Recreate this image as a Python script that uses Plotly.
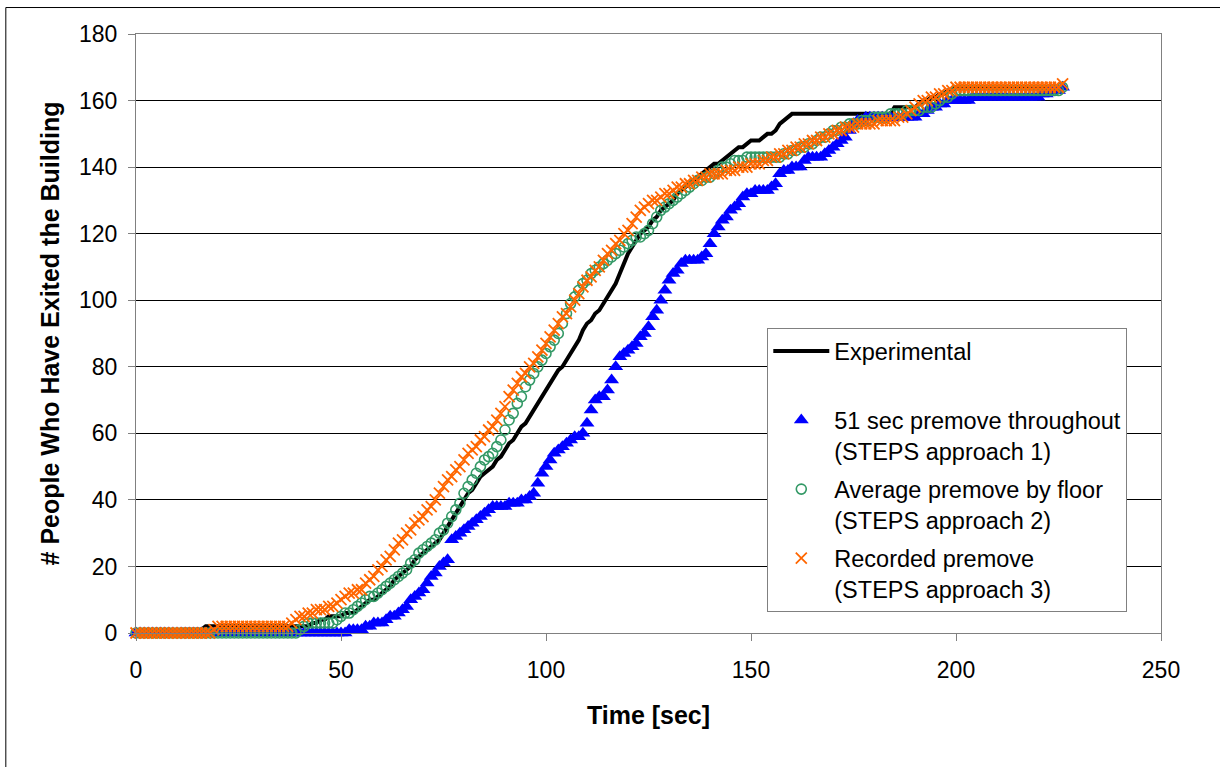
import plotly.graph_objects as go

# Sample times (s) and cumulative number of people out of the building
time_s = [
    0, 1, 2, 3, 4, 5, 6, 7, 8, 9,
    10, 11, 12, 13, 14, 15, 16, 17, 18, 19,
    20, 21, 22, 23, 24, 25, 26, 27, 28, 29,
    30, 31, 32, 33, 34, 35, 36, 37, 38, 39,
    40, 41, 42, 43, 44, 45, 46, 47, 48, 49,
    50, 51, 52, 53, 54, 55, 56, 57, 58, 59,
    60, 61, 62, 63, 64, 65, 66, 67, 68, 69,
    70, 71, 72, 73, 74, 75, 76, 77, 78, 79,
    80, 81, 82, 83, 84, 85, 86, 87, 88, 89,
    90, 91, 92, 93, 94, 95, 96, 97, 98, 99,
    100, 101, 102, 103, 104, 105, 106, 107, 108, 109,
    110, 111, 112, 113, 114, 115, 116, 117, 118, 119,
    120, 121, 122, 123, 124, 125, 126, 127, 128, 129,
    130, 131, 132, 133, 134, 135, 136, 137, 138, 139,
    140, 141, 142, 143, 144, 145, 146, 147, 148, 149,
    150, 151, 152, 153, 154, 155, 156, 157, 158, 159,
    160, 161, 162, 163, 164, 165, 166, 167, 168, 169,
    170, 171, 172, 173, 174, 175, 176, 177, 178, 179,
    180, 181, 182, 183, 184, 185, 186, 187, 188, 189,
    190, 191, 192, 193, 194, 195, 196, 197, 198, 199,
    200, 201, 202, 203, 204, 205, 206, 207, 208, 209,
    210, 211, 212, 213, 214, 215, 216, 217, 218, 219,
    220, 221, 222, 223, 224, 225, 226,
]

experimental = [
    0, 0, 0, 0, 0, 0, 0, 0, 0, 0,
    0, 1, 1, 1, 1, 1, 1, 2, 2, 2,
    2, 2, 2, 2, 2, 2, 2, 2, 2, 2,
    2, 2, 2, 2, 2, 2, 2, 2, 2, 2,
    2, 2, 2, 3, 3, 4, 4, 5, 5, 5,
    5, 6, 6, 6, 7, 8, 9, 10, 10, 11,
    12, 13, 14, 16, 17, 18, 19, 20, 22, 23,
    24, 25, 26, 27, 28, 30, 32, 34, 36, 38,
    40, 42, 43, 45, 47, 48, 49, 50, 52, 53,
    55, 57, 58, 60, 62, 63, 65, 67, 69, 71,
    73, 75, 77, 79, 80, 82, 84, 86, 88, 91,
    93, 94, 96, 97, 99, 101, 103, 105, 108, 111,
    114, 116, 118, 120, 121, 122, 124, 125, 127, 128,
    129, 130, 132, 133, 134, 135, 136, 137, 138, 139,
    140, 141, 141, 142, 143, 144, 145, 146, 146, 147,
    148, 148, 148, 149, 150, 150, 151, 153, 154, 155,
    156, 156, 156, 156, 156, 156, 156, 156, 156, 156,
    156, 156, 156, 156, 156, 156, 156, 156, 156, 156,
    156, 156, 156, 156, 156, 158, 158, 158, 158, 158,
    158, 159, 160, 160, 161, 161, 162, 162, 163, 163,
    164, 164, 164, 164, 164, 164, 164, 164, 164, 164,
    164, 164, 164, 164, 164, 164, 164, 164, 164, 164,
    164, 164, 164, 164, 164, 164, 164,
]

steps_approach_1 = [
    0, 0, 0, 0, 0, 0, 0, 0, 0, 0,
    0, 0, 0, 0, 0, 0, 0, 0, 0, 0,
    0, 0, 0, 0, 0, 0, 0, 0, 0, 0,
    0, 0, 0, 0, 0, 0, 0, 0, 0, 0,
    0, 0, 0, 0, 0, 0, 0, 0, 0, 0,
    0, 0, 1, 1, 1, 1, 2, 2, 3, 3,
    3, 4, 5, 5, 6, 7, 8, 10, 11, 12,
    13, 15, 17, 18, 20, 21, 22, 28, 29, 30,
    31, 32, 33, 34, 35, 36, 37, 38, 38, 38,
    38, 39, 39, 39, 40, 40, 41, 42, 45, 48,
    50, 52, 54, 55, 56, 57, 58, 59, 59, 60,
    63, 67, 70, 71, 71, 73, 76, 80, 83, 84,
    85, 86, 87, 89, 90, 92, 95, 97, 100, 103,
    106, 108, 109, 111, 112, 112, 112, 112, 113, 114,
    117, 120, 122, 124, 125, 127, 128, 129, 131, 132,
    132, 133, 133, 133, 133, 134, 135, 138, 139, 139,
    140, 140, 140, 142, 143, 143, 143, 143, 144, 145,
    146, 147, 148, 149, 151, 153, 154, 154, 155, 155,
    155, 155, 155, 155, 155, 155, 155, 155, 155, 155,
    155, 156, 156, 157, 158, 158, 159, 159, 160, 160,
    160, 160, 160, 160, 161, 161, 161, 161, 161, 161,
    161, 161, 161, 161, 161, 161, 161, 161, 161, 161,
    161, 162, 162, 163, 163, 163, 164,
]

steps_approach_2 = [
    0, 0, 0, 0, 0, 0, 0, 0, 0, 0,
    0, 0, 0, 0, 0, 0, 0, 0, 0, 0,
    0, 0, 0, 0, 0, 0, 0, 0, 0, 0,
    0, 0, 0, 0, 0, 0, 0, 0, 0, 0,
    1, 2, 3, 3, 3, 3, 3, 3, 3, 4,
    5, 6, 6, 7, 8, 9, 10, 11, 11, 12,
    13, 14, 15, 16, 17, 18, 19, 21, 22, 24,
    25, 26, 27, 28, 30, 31, 33, 35, 37, 39,
    42, 44, 46, 48, 50, 52, 53, 54, 56, 58,
    61, 64, 66, 69, 71, 74, 76, 78, 80, 82,
    84, 86, 88, 90, 93, 96, 99, 101, 103, 105,
    106, 108, 109, 110, 111, 112, 113, 114, 115, 116,
    117, 118, 119, 119, 120, 121, 123, 125, 127, 128,
    129, 130, 131, 132, 133, 134, 135, 136, 136, 137,
    137, 138, 139, 140, 140, 141, 142, 142, 142, 143,
    143, 143, 143, 143, 143, 143, 143, 143, 144, 144,
    145, 145, 146, 146, 147, 147, 148, 149, 149, 150,
    151, 151, 152, 152, 153, 153, 153, 154, 154, 154,
    155, 155, 155, 155, 156, 156, 156, 156, 157, 157,
    157, 157, 158, 158, 158, 159, 160, 161, 161, 162,
    163, 163, 163, 163, 163, 163, 163, 163, 163, 163,
    163, 163, 163, 163, 163, 163, 163, 163, 163, 163,
    163, 163, 163, 163, 163, 163, 164,
]

steps_approach_3 = [
    0, 0, 0, 0, 0, 0, 0, 0, 0, 0,
    0, 0, 0, 0, 0, 0, 0, 0, 0, 1,
    2, 2, 2, 2, 2, 2, 2, 2, 2, 2,
    2, 2, 2, 2, 2, 2, 2, 2, 3, 4,
    5, 5, 6, 6, 7, 7, 7, 8, 8, 9,
    10, 11, 12, 12, 13, 13, 15, 16, 17, 19,
    20, 22, 23, 25, 27, 28, 30, 31, 33, 34,
    35, 37, 38, 40, 42, 44, 46, 47, 49, 50,
    52, 54, 55, 56, 58, 59, 61, 62, 64, 66,
    68, 71, 73, 75, 77, 78, 80, 81, 83, 85,
    87, 89, 91, 93, 95, 96, 98, 100, 102, 104,
    106, 107, 109, 110, 112, 114, 115, 117, 118, 120,
    121, 123, 125, 127, 128, 129, 130, 130, 131, 132,
    132, 133, 134, 134, 135, 135, 136, 136, 137, 137,
    138, 138, 138, 138, 139, 139, 139, 140, 140, 140,
    141, 141, 141, 142, 142, 143, 143, 144, 144, 145,
    145, 146, 146, 147, 147, 148, 148, 149, 149, 150,
    150, 151, 151, 152, 152, 152, 153, 153, 153, 153,
    153, 154, 154, 154, 154, 154, 155, 155, 156, 157,
    158, 159, 160, 160, 161, 161, 162, 162, 163, 163,
    164, 164, 164, 164, 164, 164, 164, 164, 164, 164,
    164, 164, 164, 164, 164, 164, 164, 164, 164, 164,
    164, 164, 164, 164, 164, 164, 165,
]

x_ticks = [0, 50, 100, 150, 200, 250]
y_ticks = [0, 20, 40, 60, 80, 100, 120, 140, 160, 180]

FONT = "Liberation Sans, Arial, Helvetica, sans-serif"

fig = go.Figure()

fig.add_trace(go.Scatter(
    x=time_s, y=experimental, mode="lines", name="Experimental<br> ",
    legendgroup="exp",
    line=dict(color="#000000", width=4), cliponaxis=False,
))
fig.add_trace(go.Scatter(
    x=time_s, y=steps_approach_1, mode="markers",
    name="51 sec premove throughout<br>(STEPS approach 1)",
    legendgroup="s1",
    marker=dict(symbol="triangle-up", size=13, color="#0000FF", line=dict(width=0)),
    cliponaxis=False,
))
fig.add_trace(go.Scatter(
    x=time_s, y=steps_approach_2, mode="markers",
    name="Average premove by floor<br>(STEPS approach 2)",
    legendgroup="s2",
    marker=dict(symbol="circle-open", size=10, color="#339966", line=dict(width=1.6, color="#339966")),
    cliponaxis=False,
))
fig.add_trace(go.Scatter(
    x=time_s, y=steps_approach_3, mode="markers",
    name="Recorded premove<br>(STEPS approach 3)",
    legendgroup="s3",
    marker=dict(symbol="x-thin", size=11, color="#FF6600", line=dict(width=1.8, color="#FF6600")),
    cliponaxis=False,
))

# outer frame of the chart area (left and top edges)
fig.add_shape(type="line", xref="paper", yref="paper",
              x0=-0.127, x1=1.06, y0=1.0442, y1=1.0442,
              line=dict(color="#000000", width=1))
fig.add_shape(type="line", xref="paper", yref="paper",
              x0=-0.127, x1=-0.127, y0=1.0442, y1=-0.23,
              line=dict(color="#000000", width=1))

fig.update_layout(
    width=1220, height=767,
    margin=dict(l=135.7, r=59.3, t=33.5, b=133.5),
    paper_bgcolor="white", plot_bgcolor="white",
    font=dict(family=FONT, size=23, color="#000000"),
    showlegend=True,
    legend=dict(
        x=0.6159, y=0.509, xanchor="left", yanchor="top",
        bgcolor="white", bordercolor="#808080", borderwidth=1,
        font=dict(family=FONT, size=23.5, color="#000000"),
        valign="top", itemwidth=56, tracegroupgap=5,
    ),
    xaxis=dict(
        range=[0, 250], tickvals=x_ticks, ticktext=[str(v) for v in x_ticks],
        showgrid=False, zeroline=False,
        showline=True, linecolor="#808080", linewidth=1, mirror=True,
        ticks="outside", ticklen=7, tickcolor="#808080",
        ticklabelstandoff=9,
        title=dict(text="Time [sec]", font=dict(family=FONT, size=25, weight="bold"), standoff=24),
    ),
    yaxis=dict(
        range=[0, 180], tickvals=y_ticks, ticktext=[str(v) for v in y_ticks],
        showgrid=True, gridcolor="#000000", gridwidth=1, zeroline=False,
        showline=True, linecolor="#808080", linewidth=1, mirror=True,
        ticks="outside", ticklen=7, tickcolor="#808080",
        ticklabelstandoff=6,
        title=dict(text="# People Who Have Exited the Building",
                   font=dict(family=FONT, size=25, weight="bold"), standoff=12),
    ),
)

fig.write_html("out.html")
